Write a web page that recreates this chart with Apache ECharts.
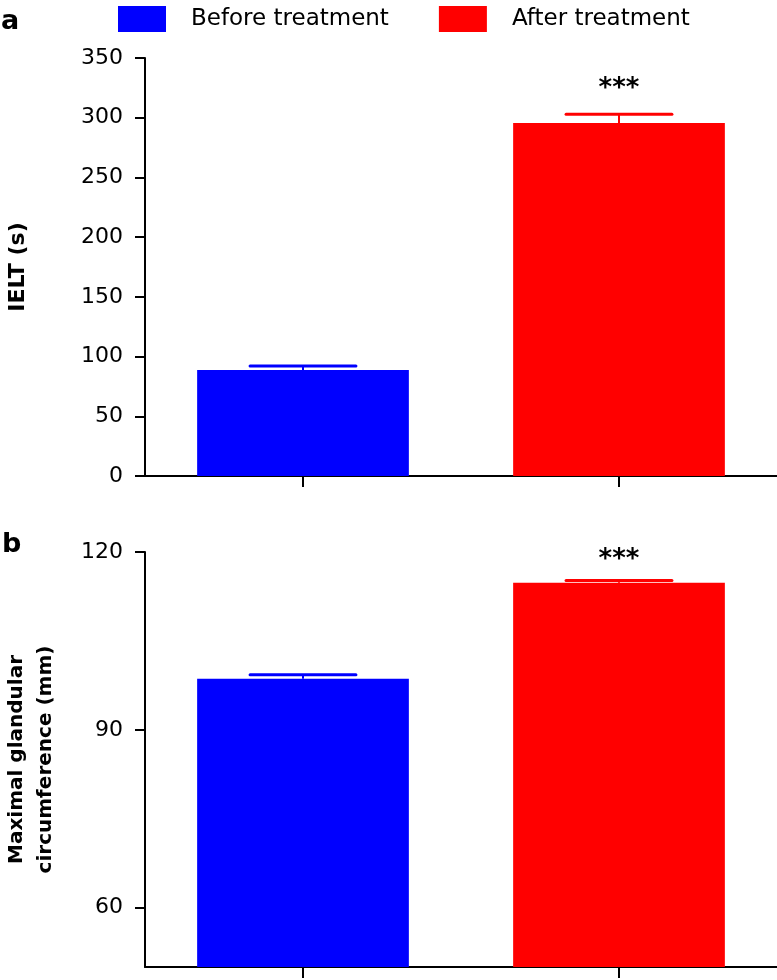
<!DOCTYPE html>
<html>
<head>
<meta charset="utf-8">
<script src="https://cdn.jsdelivr.net/npm/echarts@6/dist/echarts.min.js"></script>
<style>
html,body{margin:0;padding:0;background:#fff;}
#chart{width:777px;height:980px;}
</style>
</head>
<body>
<div id="chart"></div>
<script>
var categories = ['Before treatment', 'After treatment'];
var ieltMean = [88.8, 295.5];
var ieltErr = [3.4, 7.5];
var circMean = [98.6, 114.8];
var circErr = [0.7, 0.4];
var stars = ['', '***'];
var ieltTicks = [0, 50, 100, 150, 200, 250, 300, 350];
var circTicks = [60, 90, 120];
var colors = ['#0000ff', '#ff0000'];

var FONT = 'DejaVu Sans';

function errData(means, errs) {
  return means.map(function (m, i) { return [i, m, m + errs[i]]; });
}

function makeRender(starOffset) {
  return function (params, api) {
    var i = api.value(0);
    var top = api.coord([i, api.value(2)]);
    var base = api.coord([i, api.value(1)]);
    var band = api.size([1, 0])[0];
    var half = band * 0.67 * 0.25;
    var col = colors[i];
    var children = [
      { type: 'line', shape: { x1: base[0], y1: base[1], x2: top[0], y2: top[1] },
        style: { stroke: col, lineWidth: 2 } },
      { type: 'line', shape: { x1: top[0] - half, y1: top[1], x2: top[0] + half, y2: top[1] },
        style: { stroke: col, lineWidth: 3, lineCap: 'round' } }
    ];
    if (stars[i]) {
      children.push({ type: 'text', x: top[0], y: top[1] - starOffset,
        style: { text: stars[i], fill: '#000', font: 'bold 26px "' + FONT + '"',
                 align: 'center', verticalAlign: 'middle' } });
    }
    return { type: 'group', children: children };
  };
}

function barSeries(name, idx, values, axisIndex) {
  var d = values.map(function (v, i) { return i === idx ? v : '-'; });
  return { name: name, type: 'bar', xAxisIndex: axisIndex, yAxisIndex: axisIndex,
    data: d, barWidth: '67%', barGap: '-100%', itemStyle: { color: colors[idx] } };
}

var axisLineStyle = { color: '#000', width: 2 };

var option = {
  animation: false,
  backgroundColor: '#fff',
  textStyle: { fontFamily: FONT },
  legend: {
    top: 6, left: 118, padding: 0, itemWidth: 48, itemHeight: 26, itemGap: 50, icon: 'rect',
    data: categories,
    textStyle: { fontFamily: FONT, fontSize: 23, color: '#000', padding: [0, 0, 0, 20] }
  },
  graphic: [
    { type: 'text', left: 1, top: 8, style: { text: 'a', font: 'bold 27px "' + FONT + '"', fill: '#000' } },
    { type: 'text', left: 2, top: 531, style: { text: 'b', font: 'bold 27px "' + FONT + '"', fill: '#000' } }
  ],
  grid: [
    { left: 145, right: 0, top: 58, height: 418, outerBoundsMode: 'none', containLabel: false },
    { left: 145, right: 0, top: 552, height: 415, outerBoundsMode: 'none', containLabel: false }
  ],
  xAxis: [0, 1].map(function (g) {
    return { type: 'category', gridIndex: g, data: categories,
      axisLine: { show: true, lineStyle: axisLineStyle },
      axisTick: { show: true, interval: 0, alignWithLabel: true, length: 11, lineStyle: { color: '#000', width: 2 } },
      axisLabel: { show: true, interval: 0, formatter: function () { return ''; } } };
  }),
  yAxis: [
    { type: 'value', gridIndex: 0, min: 0, max: 350, interval: 50,
      name: 'IELT (s)', nameLocation: 'middle', nameRotate: 90, nameGap: 116,
      nameTextStyle: { fontFamily: FONT, fontSize: 22, fontWeight: 'bold', color: '#000' },
      axisLine: { show: true, lineStyle: axisLineStyle },
      axisTick: { show: true, length: 10, lineStyle: { color: '#000', width: 2 } },
      axisLabel: { margin: 22, fontSize: 22, color: '#000', fontFamily: FONT },
      splitLine: { show: false } },
    { type: 'value', gridIndex: 1, min: 50, max: 120, interval: 10,
      name: 'Maximal glandular\ncircumference (mm)', nameLocation: 'middle', nameRotate: 90, nameGap: 85,
      nameTextStyle: { fontFamily: FONT, fontSize: 20, fontWeight: 'bold', color: '#000', lineHeight: 29 },
      axisLine: { show: true, lineStyle: axisLineStyle },
      axisTick: { show: true, length: 10, customValues: circTicks, lineStyle: { color: '#000', width: 2 } },
      axisLabel: { margin: 22, fontSize: 22, color: '#000', fontFamily: FONT, customValues: circTicks },
      splitLine: { show: false } }
  ],
  series: [
    barSeries(categories[0], 0, ieltMean, 0),
    barSeries(categories[1], 1, ieltMean, 0),
    barSeries(categories[0], 0, circMean, 1),
    barSeries(categories[1], 1, circMean, 1),
    { type: 'custom', xAxisIndex: 0, yAxisIndex: 0, z: 5, data: errData(ieltMean, ieltErr),
      renderItem: makeRender(25) },
    { type: 'custom', xAxisIndex: 1, yAxisIndex: 1, z: 5, data: errData(circMean, circErr),
      renderItem: makeRender(20) }
  ]
};

var chart = echarts.init(document.getElementById('chart'), null, { renderer: 'canvas' });
chart.setOption(option);
</script>
</body>
</html>
